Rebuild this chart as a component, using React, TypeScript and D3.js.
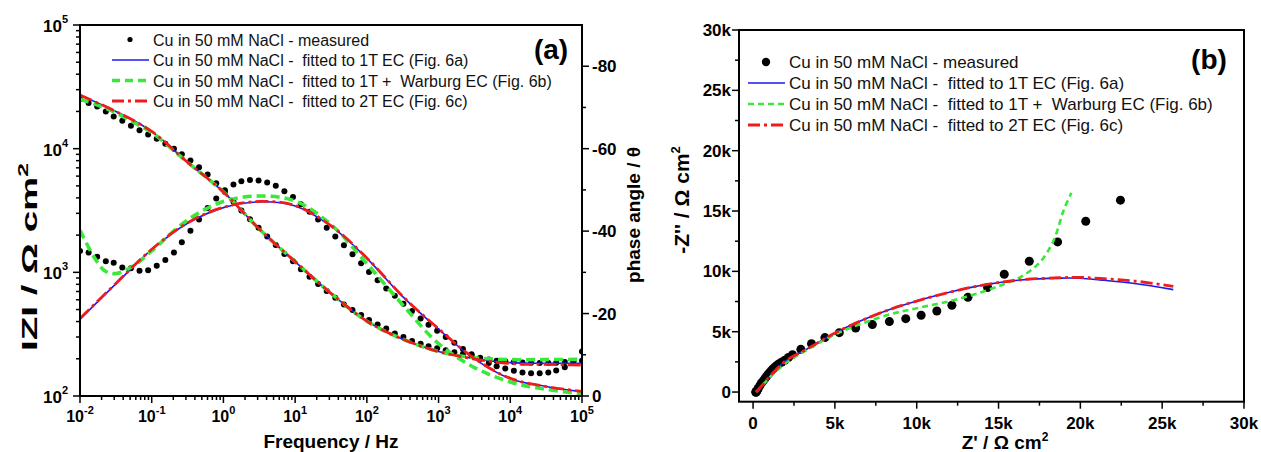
import React from "react";
import * as d3 from "d3";

const W = 1261;
const H = 452;
const FONT = "'Liberation Sans', Arial, sans-serif";
const BLUE = "#1a1af0";
const GREEN = "#39e839";
const RED = "#ee1c1c";

// ---- Bode data (panel a) ----
// log10 of frequency / Hz for each measured point
const freqExp = [
  -2.0, -1.88, -1.76, -1.64, -1.53, -1.41, -1.29, -1.17, -1.05, -0.93,
  -0.81, -0.69, -0.58, -0.46, -0.34, -0.22, -0.1, 0.02, 0.14, 0.25,
  0.37, 0.49, 0.61, 0.73, 0.85, 0.97, 1.08, 1.2, 1.32, 1.44,
  1.56, 1.68, 1.8, 1.92, 2.03, 2.15, 2.27, 2.39, 2.51, 2.63,
  2.75, 2.86, 2.98, 3.1, 3.22, 3.34, 3.46, 3.58, 3.7, 3.81,
  3.93, 4.05, 4.17, 4.29, 4.41, 4.53, 4.64, 4.76, 4.88, 5.0,
];
const zMeasured = [
  25100, 23400, 21900, 19950, 18200, 16800, 15300, 14100, 13000, 12000,
  10960, 10000, 9020, 8040, 7080, 6170, 5250, 4470, 3720, 3160,
  2690, 2290, 1950, 1660, 1410, 1230, 1060, 923, 804, 708,
  624, 550, 495, 452, 412, 378, 351, 320, 300, 279,
  265, 253, 243, 234, 226, 219, 213, 204, 197, 193,
  191, 188, 187, 186, 185, 185, 186, 188, 191, 193,
];
const phaseMeasured = [
  -35.2, -34.8, -33.8, -32.7, -32.3, -31.2, -31.0, -30.4, -30.5, -31.6,
  -33.0, -34.8, -37.3, -40.1, -42.8, -45.6, -47.9, -49.9, -51.3, -52.1,
  -52.4, -52.3, -51.8, -51.0, -49.7, -48.3, -46.5, -44.7, -42.8, -40.8,
  -38.7, -36.6, -34.4, -32.2, -30.1, -28.1, -26.1, -24.3, -22.4, -20.6,
  -18.8, -17.3, -15.8, -14.3, -12.9, -11.4, -10.1, -9.0, -8.0, -7.2,
  -6.7, -6.1, -5.7, -5.5, -5.5, -5.7, -6.2, -7.0, -8.5, -10.8,
];

const fitFreqExp = [-2, -1.5, -1, -0.5, 0, 0.5, 1, 1.5, 2, 2.5, 3, 3.5, 4, 4.5, 5];
const zFit1T = [27100, 20000, 13800, 7760, 4470, 2240, 1220, 676, 403, 288, 229, 200, 186, 184, 184];
const phaseFit1T = [-18.6, -27.2, -35.5, -41.9, -45.7, -47.1, -46.1, -41.2, -33.4, -24.1, -16.2, -9.0, -4.2, -2.3, -1.0];
const zFit2T = [27100, 20000, 13800, 7760, 4470, 2240, 1220, 676, 403, 288, 229, 199, 183, 180, 178];
const phaseFit2T = [-18.8, -27.3, -35.6, -42.0, -45.8, -47.2, -46.2, -41.3, -33.5, -24.2, -16.3, -9.1, -4.3, -2.3, -1.1];

const wbFreqExp = [-2, -1.8, -1.65, -1.5, -1.25, -1, -0.5, 0, 0.5, 1, 1.5, 2, 2.5, 3, 3.5, 4, 4.5, 5];
const zFitWarburg = [25100, 23000, 21300, 19500, 16300, 13500, 7760, 4470, 2240, 1220, 676, 403, 288, 229, 204, 197, 197, 198];
const phaseFitWarburg = [-40.2, -33.6, -30.3, -29.7, -31.6, -35.2, -42.7, -47.2, -48.5, -47.3, -41.6, -32.1, -22.1, -12.7, -6.9, -3.4, -1.6, -0.5];

// ---- Nyquist data (panel b), ohm cm2 ----
const nyqReMeasured = [
  170, 180, 190, 200, 230, 270, 310, 410, 510, 620,
  720, 820, 920, 1030, 1130, 1230, 1330, 1460, 1590, 1760,
  1940, 2160, 2410, 2920, 3570, 4390, 5270, 6270, 7290, 8330,
  9330, 10270, 11230, 12150, 13130, 14330, 15350, 16880, 18610, 20330,
  22450,
];
const nyqImMeasured = [
  -20, 0, 20, 50, 100, 180, 290, 520, 750, 930,
  1110, 1290, 1470, 1640, 1800, 1940, 2070, 2210, 2350, 2490,
  2630, 2860, 3100, 3540, 4010, 4510, 4920, 5310, 5590, 5840,
  6080, 6360, 6720, 7190, 7850, 8660, 9760, 10840, 12440, 14150,
  15900,
];
const nyqRe1T = [190, 450, 800, 1220, 2000, 3270, 5300, 8170, 10200, 12240, 14300, 16330, 18780, 20000, 21200, 23300, 25680];
const nyqIm1T = [0, 400, 950, 1600, 2600, 3550, 5100, 6750, 7620, 8350, 8920, 9280, 9440, 9430, 9290, 8990, 8490];
const nyqRe2T = [190, 450, 800, 1220, 2000, 3270, 5300, 8170, 10200, 12240, 14300, 16330, 18780, 20000, 21200, 23300, 25680];
const nyqIm2T = [0, 400, 950, 1600, 2600, 3550, 5100, 6750, 7620, 8350, 8920, 9290, 9470, 9500, 9410, 9200, 8760];
const nyqReWarburg = [190, 500, 1000, 2000, 3300, 5300, 8170, 10200, 12240, 14300, 15500, 16530, 17550, 18370, 18980, 19450];
const nyqImWarburg = [0, 450, 1200, 2400, 3500, 4950, 6360, 7000, 7600, 8430, 9040, 9680, 10780, 12580, 15070, 16500];

const legendLabels = [
  "Cu in 50 mM NaCl - measured",
  "Cu in 50 mM NaCl -  fitted to 1T EC (Fig. 6a)",
  "Cu in 50 mM NaCl -  fitted to 1T +  Warburg EC (Fig. 6b)",
  "Cu in 50 mM NaCl -  fitted to 2T EC (Fig. 6c)",
];
const phaseTicks = [0, -20, -40, -60, -80];
const phaseMinor = [-10, -30, -50, -70];
const nyqTicks = [0, 5000, 10000, 15000, 20000, 25000, 30000];
const nyqMinor = [2500, 7500, 12500, 17500, 22500, 27500];

const isDecade = (t: number) => Math.abs(Math.log10(t) - Math.round(Math.log10(t))) < 1e-6;
const kLabel = (v: number) => (v === 0 ? "0" : v / 1000 + "k");

function Legend({ x0, rows, fontSize, dotR, dash }: any) {
  const styles = [
    null,
    { stroke: BLUE, width: 1.6, dash: undefined },
    { stroke: GREEN, width: dash.greenW, dash: dash.green },
    { stroke: RED, width: 2.8, dash: dash.red },
  ];
  return (
    <g fontFamily={FONT} fontSize={fontSize}>
      {legendLabels.map((label, i) => {
        const y = rows[i];
        const st = styles[i];
        return (
          <g key={i}>
            {st ? (
              <line x1={x0} x2={x0 + 37} y1={y - 6} y2={y - 6} stroke={st.stroke}
                strokeWidth={st.width} strokeDasharray={st.dash} />
            ) : (
              <circle cx={x0 + 18} cy={y - 6} r={dotR} fill="#000" />
            )}
            <text x={x0 + 41} y={y} style={{ whiteSpace: "pre" }} fill="#111">{label}</text>
          </g>
        );
      })}
    </g>
  );
}

function BodePanel() {
  const L = 80, R = 582, T = 25, B = 396;
  const x = d3.scaleLog().domain([1e-2, 1e5]).range([L, R]);
  const yZ = d3.scaleLog().domain([1e2, 1e5]).range([B, T]);
  const yP = d3.scaleLinear().domain([0, -90]).range([B, T]);
  const curve = d3.curveCatmullRom.alpha(0.5);

  const mk = (fx: number[], scale: any) =>
    d3.line<number>().x((_, i) => x(Math.pow(10, fx[i]))).y((d) => scale(d)).curve(curve);

  const series = [
    { fx: fitFreqExp, z: zFit1T, p: phaseFit1T, stroke: BLUE, w: 1.6, dash: undefined },
    { fx: wbFreqExp, z: zFitWarburg, p: phaseFitWarburg, stroke: GREEN, w: 3.6, dash: "9 5" },
    { fx: fitFreqExp, z: zFit2T, p: phaseFit2T, stroke: RED, w: 2.8, dash: "13 4 3 4" },
  ];

  const xTicks = x.ticks();
  const yTicks = yZ.ticks();

  return (
    <g>
      <defs>
        <clipPath id="clipA"><rect x={L} y={T} width={R - L} height={B - T} /></clipPath>
      </defs>
      <g clipPath="url(#clipA)">
        {freqExp.map((e, i) => (
          <circle key={"z" + i} cx={x(Math.pow(10, e))} cy={yZ(zMeasured[i])} r={3} fill="#000" />
        ))}
        {freqExp.map((e, i) => (
          <circle key={"p" + i} cx={x(Math.pow(10, e))} cy={yP(phaseMeasured[i])} r={3} fill="#000" />
        ))}
        {series.map((s, i) => (
          <g key={i}>
            <path d={mk(s.fx, yZ)(s.z) || ""} fill="none" stroke={s.stroke} strokeWidth={s.w} strokeDasharray={s.dash} />
            <path d={mk(s.fx, yP)(s.p) || ""} fill="none" stroke={s.stroke} strokeWidth={s.w} strokeDasharray={s.dash} />
          </g>
        ))}
      </g>
      <rect x={L} y={T} width={R - L} height={B - T} fill="none" stroke="#000" strokeWidth={2} />
      {/* bottom axis */}
      {xTicks.map((t, i) => (
        <line key={i} x1={x(t)} x2={x(t)} y1={B} y2={B + (isDecade(t) ? 7 : 4)} stroke="#000" strokeWidth={1.5} />
      ))}
      {xTicks.filter(isDecade).map((t, i) => (
        <text key={i} x={x(t)} y={422} textAnchor="middle" fontFamily={FONT} fontWeight="bold" fontSize={16}>
          10<tspan dy={-8} fontSize={11}>{Math.round(Math.log10(t))}</tspan>
        </text>
      ))}
      {/* left axis */}
      {yTicks.map((t, i) => (
        <line key={i} x1={L} x2={L - (isDecade(t) ? 7 : 4)} y1={yZ(t)} y2={yZ(t)} stroke="#000" strokeWidth={1.5} />
      ))}
      {yTicks.filter(isDecade).map((t, i) => (
        <text key={i} x={68} y={yZ(t) + 7} textAnchor="end" fontFamily={FONT} fontWeight="bold" fontSize={17}>
          10<tspan dy={-9} fontSize={11}>{Math.round(Math.log10(t))}</tspan>
        </text>
      ))}
      {/* right axis (phase) */}
      {phaseTicks.map((t) => (
        <g key={t}>
          <line x1={R} x2={R + 7} y1={yP(t)} y2={yP(t)} stroke="#000" strokeWidth={1.5} />
          <text x={R + 10} y={yP(t) + 6} fontFamily={FONT} fontWeight="bold" fontSize={17}>{t}</text>
        </g>
      ))}
      {phaseMinor.map((t) => (
        <line key={t} x1={R} x2={R + 4} y1={yP(t)} y2={yP(t)} stroke="#000" strokeWidth={1.5} />
      ))}
      {/* titles */}
      <text x={(L + R) / 2} y={448} textAnchor="middle" fontFamily={FONT} fontWeight="bold" fontSize={19}>Frequency / Hz</text>
      <text transform="translate(37,257) rotate(-90)" textAnchor="middle" fontFamily={FONT} fontWeight="bold" fontSize={22}
        textLength={188} lengthAdjust="spacingAndGlyphs" style={{ whiteSpace: "pre" }}>
        IZI / Ω cm<tspan dy={-9} fontSize={14}>2</tspan>
      </text>
      <text transform="translate(640,215) rotate(-90)" textAnchor="middle" fontFamily={FONT} fontWeight="bold" fontSize={19}>
        phase angle / θ
      </text>
      <text x={551} y={59} textAnchor="middle" fontFamily={FONT} fontWeight="bold" fontSize={28}>(a)</text>
      <Legend x0={112} rows={[45.5, 66, 86.5, 107]} fontSize={16} dotR={2.6}
        dash={{ green: "8 5", greenW: 3.6, red: "12 4 3 4" }} />
    </g>
  );
}

function NyquistPanel() {
  const L = 739, R = 1244, T = 30, B = 401.7;
  const x = d3.scaleLinear().domain([-860, 30000]).range([L, R]);
  const y = d3.scaleLinear().domain([-800, 30000]).range([B, T]);
  const curve = d3.curveCatmullRom.alpha(0.5);
  const mk = (re: number[], im: number[]) =>
    d3.line<number>().x((d) => x(d)).y((_, i) => y(im[i])).curve(curve)(re) || "";

  return (
    <g>
      <defs>
        <clipPath id="clipB"><rect x={L} y={T} width={R - L} height={B - T} /></clipPath>
      </defs>
      <g clipPath="url(#clipB)">
        {nyqReMeasured.map((re, i) => (
          <circle key={i} cx={x(re)} cy={y(nyqImMeasured[i])} r={4.5} fill="#000" />
        ))}
        <path d={mk(nyqRe1T, nyqIm1T)} fill="none" stroke={BLUE} strokeWidth={1.6} />
        <path d={mk(nyqReWarburg, nyqImWarburg)} fill="none" stroke={GREEN} strokeWidth={2.6} strokeDasharray="6 4" />
        <path d={mk(nyqRe2T, nyqIm2T)} fill="none" stroke={RED} strokeWidth={2.8} strokeDasharray="12 4 3 4" />
      </g>
      <rect x={L} y={T} width={R - L} height={B - T} fill="none" stroke="#000" strokeWidth={2} />
      {nyqTicks.map((t) => (
        <g key={t}>
          <line x1={x(t)} x2={x(t)} y1={B} y2={B + 7} stroke="#000" strokeWidth={1.5} />
          <text x={x(t)} y={429} textAnchor="middle" fontFamily={FONT} fontWeight="bold" fontSize={17}>{kLabel(t)}</text>
          <line x1={L} x2={L - 7} y1={y(t)} y2={y(t)} stroke="#000" strokeWidth={1.5} />
          <text x={731} y={y(t) + 6} textAnchor="end" fontFamily={FONT} fontWeight="bold" fontSize={17}>{kLabel(t)}</text>
        </g>
      ))}
      {nyqMinor.map((t) => (
        <g key={t}>
          <line x1={x(t)} x2={x(t)} y1={B} y2={B + 4} stroke="#000" strokeWidth={1.5} />
          <line x1={L} x2={L - 4} y1={y(t)} y2={y(t)} stroke="#000" strokeWidth={1.5} />
        </g>
      ))}
      <text x={1005} y={449} textAnchor="middle" fontFamily={FONT} fontWeight="bold" fontSize={19}>
        Z' / Ω cm<tspan dy={-8} fontSize={12}>2</tspan>
      </text>
      <text transform="translate(689,200) rotate(-90)" textAnchor="middle" fontFamily={FONT} fontWeight="bold" fontSize={21}
        style={{ whiteSpace: "pre" }}>
        -Z'' / Ω cm<tspan dy={-9} fontSize={13}>2</tspan>
      </text>
      <text x={1209} y={69} textAnchor="middle" fontFamily={FONT} fontWeight="bold" fontSize={28}>(b)</text>
      <Legend x0={748} rows={[68, 89, 110, 131]} fontSize={17} dotR={4.2}
        dash={{ green: "6 4", greenW: 2.6, red: "12 4 3 4" }} />
    </g>
  );
}

export default function App() {
  return (
    <div style={{ position: "absolute", left: 0, top: 0, width: W, height: H, background: "#fff" }}>
      <svg width={W} height={H} viewBox={`0 0 ${W} ${H}`}>
        <rect width={W} height={H} fill="#fff" />
        <BodePanel />
        <NyquistPanel />
      </svg>
    </div>
  );
}
